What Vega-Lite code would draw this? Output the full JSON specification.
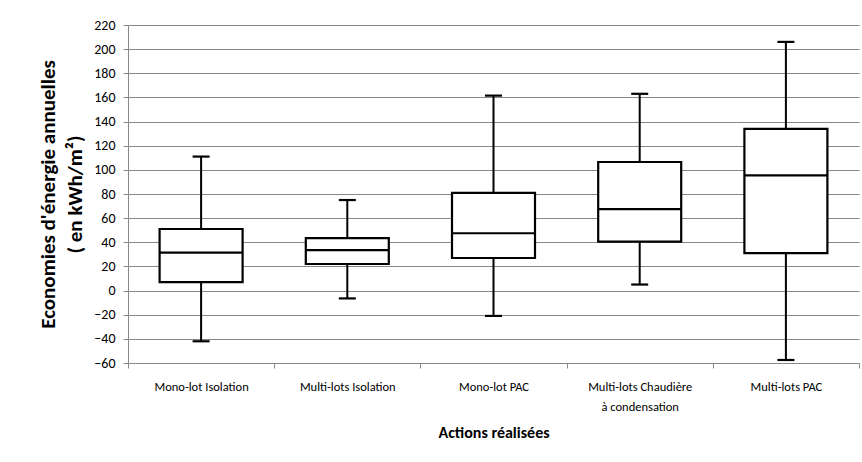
{
  "$schema": "https://vega.github.io/schema/vega-lite/v6.json",
  "width": 731,
  "height": 338,
  "autosize": {"type": "none"},
  "padding": {"left": 128, "top": 25, "right": 3, "bottom": 99},
  "background": "white",
  "config": {
    "view": {"stroke": null},
    "font": "Carlito, 'Liberation Sans Narrow', Lato, sans-serif",
    "tick": {"opacity": 1},
    "axisY": {
      "titleFontSize": 21,
      "titleFontWeight": 600,
      "titleColor": "#000000",
      "titleLineHeight": 27,
      "titlePadding": 8,
      "labelOverlap": false,
      "labelFontSize": 14,
      "labelColor": "#000000",
      "labelPadding": 8,
      "tickSize": 5,
      "tickColor": "#888888",
      "domainColor": "#888888",
      "grid": true,
      "gridColor": "#888888",
      "gridWidth": 1
    }
  },
  "data": {
    "values": [
      {"action": "Mono-lot Isolation", "min": -42, "q1": 7, "median": 31.5, "q3": 51, "max": 111},
      {"action": "Multi-lots Isolation", "min": -6.5, "q1": 22, "median": 33.5, "q3": 43.5, "max": 75},
      {"action": "Mono-lot PAC", "min": -21, "q1": 27, "median": 47.5, "q3": 81, "max": 161.5},
      {"action": "Multi-lots Chaudière à condensation", "min": 5, "q1": 40.5, "median": 67.5, "q3": 106.5, "max": 163},
      {"action": "Multi-lots PAC", "min": -57.5, "q1": 31, "median": 95.5, "q3": 134, "max": 206}
    ]
  },
  "encoding": {
    "x": {
      "field": "action",
      "type": "nominal",
      "sort": null,
      "scale": {"paddingInner": 0, "paddingOuter": 0},
      "axis": {
        "title": "Actions réalisées",
        "titleFontSize": 16,
        "titleFontWeight": "bold",
        "titleColor": "#000000",
        "titlePadding": 12,
        "labelAngle": 0,
        "labelFontSize": 12.5,
        "labelColor": "#000000",
        "labelPadding": 12,
        "labelLineHeight": 20,
        "labelBaseline": "top",
        "labelExpr": "datum.label == 'Multi-lots Chaudière à condensation' ? ['Multi-lots Chaudière', 'à condensation'] : datum.label",
        "tickBand": "extent",
        "tickSize": 5,
        "tickColor": "#888888",
        "domainColor": "#888888",
        "grid": false
      }
    }
  },
  "layer": [
    {
      "mark": {"type": "rule", "color": "#000000", "strokeWidth": 2},
      "encoding": {
        "y": {
          "field": "min",
          "type": "quantitative",
          "scale": {"domain": [-60, 220], "nice": false},
          "axis": {"title": ["Economies d'énergie annuelles", "( en kWh/m²)"], "values": [-60, -40, -20, 0, 20, 40, 60, 80, 100, 120, 140, 160, 180, 200, 220]}
        },
        "y2": {"field": "max"}
      }
    },
    {
      "mark": {"type": "bar", "fill": "white", "stroke": "#000000", "strokeWidth": 2.2, "size": 83},
      "encoding": {
        "y": {"field": "q1", "type": "quantitative", "axis": {"title": ["Economies d'énergie annuelles", "( en kWh/m²)"], "values": [-60, -40, -20, 0, 20, 40, 60, 80, 100, 120, 140, 160, 180, 200, 220]}},
        "y2": {"field": "q3"}
      }
    },
    {
      "mark": {"type": "tick", "color": "#000000", "opacity": 1, "thickness": 2.2, "size": 83},
      "encoding": {"y": {"field": "median", "type": "quantitative", "axis": {"title": ["Economies d'énergie annuelles", "( en kWh/m²)"], "values": [-60, -40, -20, 0, 20, 40, 60, 80, 100, 120, 140, 160, 180, 200, 220]}}}
    },
    {
      "mark": {"type": "tick", "color": "#000000", "opacity": 1, "thickness": 2.2, "size": 17},
      "encoding": {"y": {"field": "min", "type": "quantitative", "axis": {"title": ["Economies d'énergie annuelles", "( en kWh/m²)"], "values": [-60, -40, -20, 0, 20, 40, 60, 80, 100, 120, 140, 160, 180, 200, 220]}}}
    },
    {
      "mark": {"type": "tick", "color": "#000000", "opacity": 1, "thickness": 2.2, "size": 17},
      "encoding": {"y": {"field": "max", "type": "quantitative", "axis": {"title": ["Economies d'énergie annuelles", "( en kWh/m²)"], "values": [-60, -40, -20, 0, 20, 40, 60, 80, 100, 120, 140, 160, 180, 200, 220]}}}
    }
  ]
}
